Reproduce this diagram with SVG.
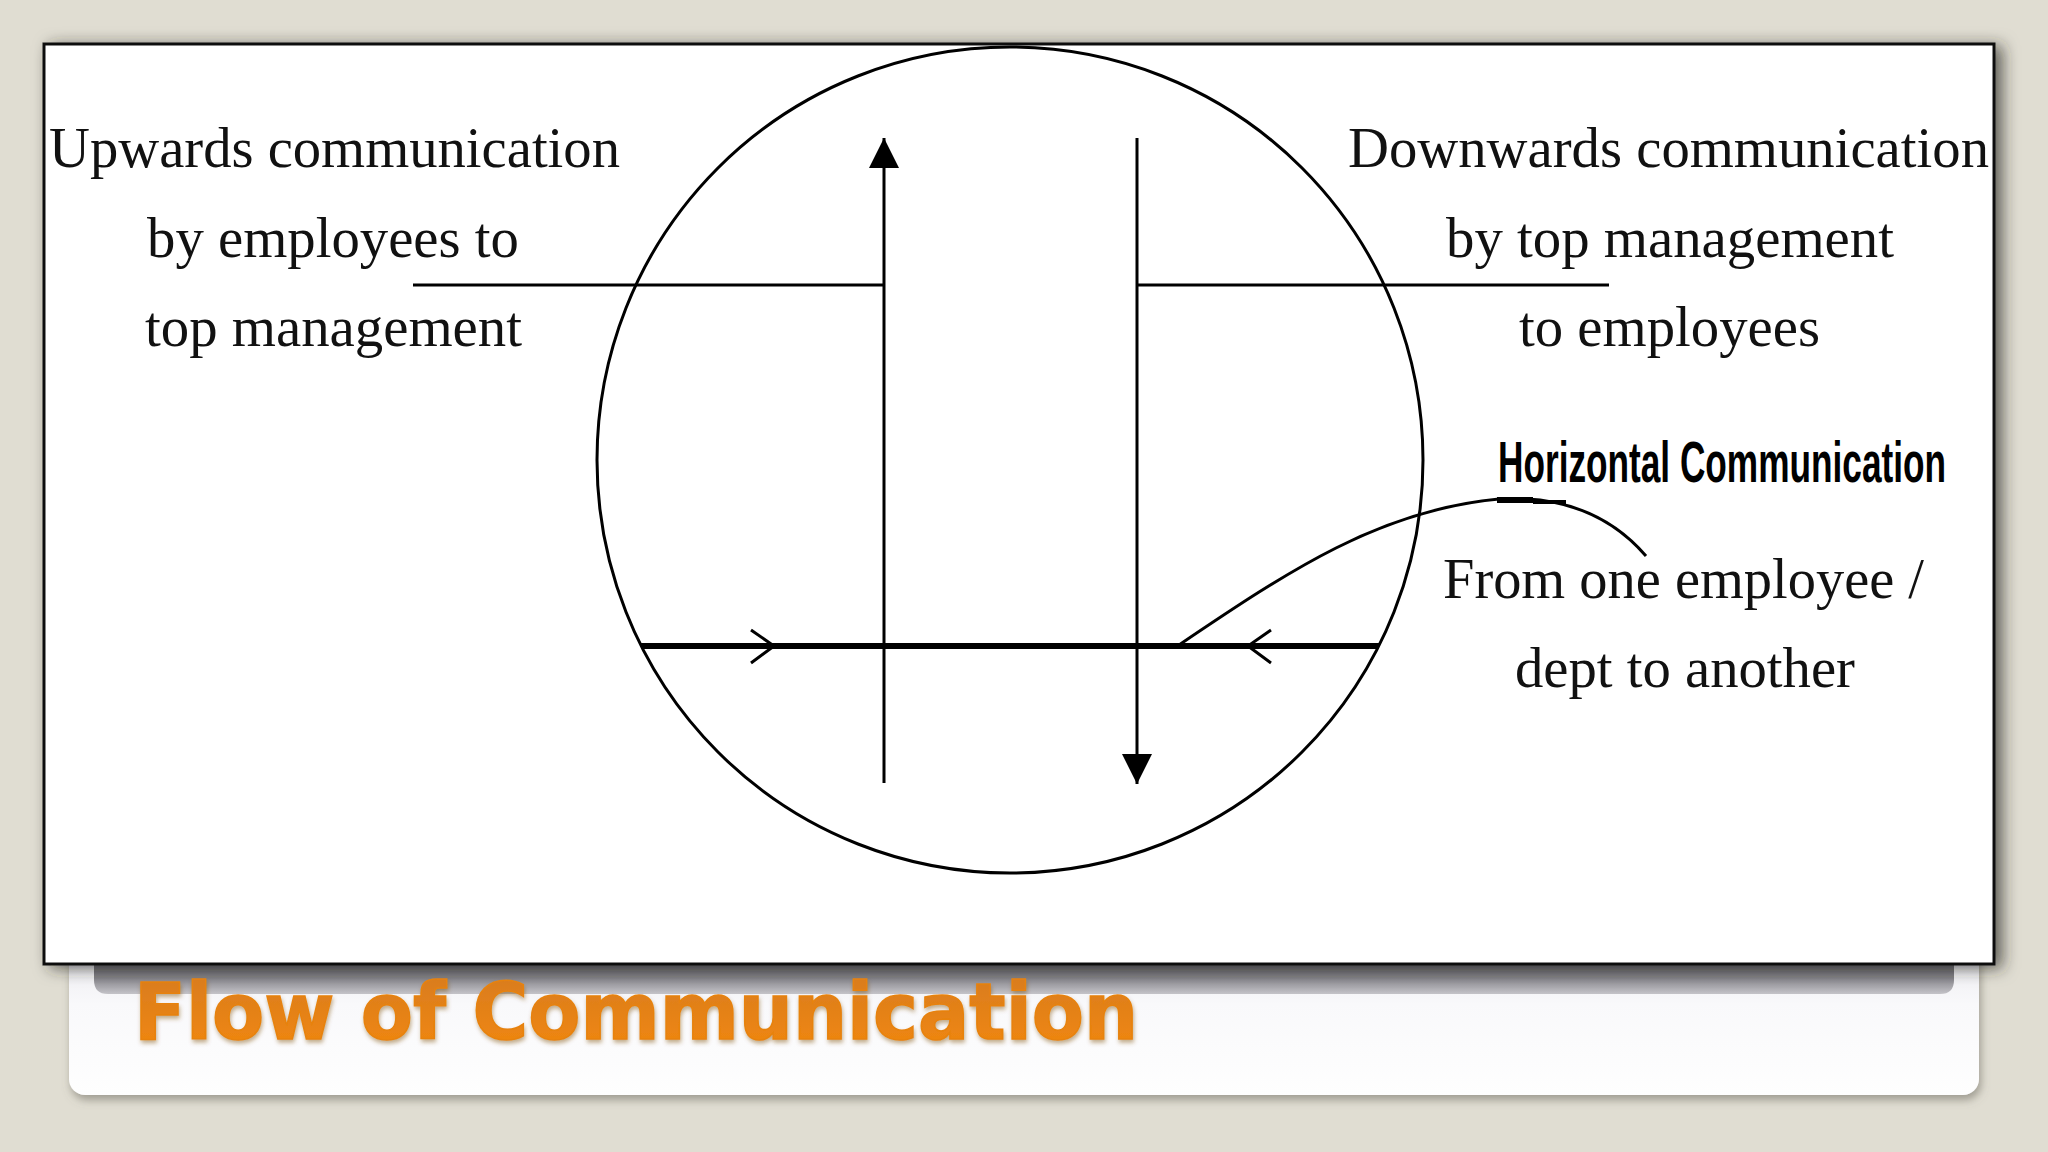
<svg xmlns="http://www.w3.org/2000/svg" width="2048" height="1152" viewBox="0 0 2048 1152">
  <style>
    .ln { stroke: #000; stroke-width: 3; fill: none; stroke-linecap: butt; }
    .serif { font-family: "Liberation Serif", "Times New Roman", serif; font-size: 58px; fill: #111; }
    .cond { font-family: "Liberation Sans", Arial, sans-serif; font-weight: bold; font-size: 58px; fill: #000; }
    .title { font-family: "DejaVu Sans", Verdana, sans-serif; font-weight: bold; font-size: 78px; fill: url(#orange); stroke: #e7820f; stroke-width: 1.5; }
  </style>
  <defs>
    <linearGradient id="orange" x1="0" y1="0" x2="0" y2="1">
      <stop offset="0" stop-color="#d67b22"/>
      <stop offset="1" stop-color="#f3880c"/>
    </linearGradient>
    <linearGradient id="bar" x1="0" y1="0" x2="0" y2="1">
      <stop offset="0" stop-color="#5c5a60"/>
      <stop offset="0.5" stop-color="#7f7e84"/>
      <stop offset="1" stop-color="#c4c3c8"/>
    </linearGradient>
    <linearGradient id="card" x1="0" y1="0" x2="0" y2="1">
      <stop offset="0" stop-color="#e6e5ea"/>
      <stop offset="0.45" stop-color="#f9f9fb"/>
      <stop offset="1" stop-color="#fefefe"/>
    </linearGradient>
    <filter id="panelShadow" x="-5%" y="-5%" width="112%" height="112%">
      <feDropShadow dx="7" dy="3" stdDeviation="8" flood-color="#2a2820" flood-opacity="0.7"/>
    </filter>
    <filter id="cardShadow" x="-5%" y="-20%" width="110%" height="150%">
      <feDropShadow dx="2" dy="5" stdDeviation="4" flood-color="#6b685c" flood-opacity="0.55"/>
    </filter>
    <filter id="titleShadow" x="-5%" y="-20%" width="110%" height="150%">
      <feDropShadow dx="1" dy="3" stdDeviation="2" flood-color="#7a4a10" flood-opacity="0.45"/>
    </filter>
    <marker id="tri" viewBox="0 0 30 30" refX="30" refY="15" markerWidth="30" markerHeight="30" markerUnits="userSpaceOnUse" orient="auto">
      <path d="M0,0 L30,15 L0,30 Z" fill="#000"/>
    </marker>
  </defs>

  <rect x="0" y="0" width="2048" height="1152" fill="#e0ddd2"/>

  <g id="slide-frame">
    <rect x="69" y="930" width="1910" height="165" rx="16" fill="url(#card)" filter="url(#cardShadow)"/>
    <path d="M94,958 H1954 V980 Q1954,994 1940,994 H108 Q94,994 94,980 Z" fill="url(#bar)"/>
    <rect x="44" y="44" width="1950" height="920" fill="#fff" stroke="#111" stroke-width="3" filter="url(#panelShadow)"/>
  </g>

  <g id="circle">
    <circle cx="1010" cy="460" r="413" class="ln"/>
  </g>

  <g id="connectors">
    <line id="upward" x1="884" y1="783" x2="884" y2="138" class="ln" marker-end="url(#tri)"/>
    <line id="downward" x1="1137" y1="138" x2="1137" y2="784" class="ln" marker-end="url(#tri)"/>
    <line id="up-leader" x1="413" y1="285" x2="884" y2="285" class="ln"/>
    <line id="down-leader" x1="1137" y1="285" x2="1609" y2="285" class="ln"/>
    <line id="horizontal" x1="641" y1="646" x2="1379" y2="646" stroke="#000" stroke-width="6"/>
    <path d="M751,630 L774,646 L751,663" class="ln"/>
    <path d="M1271,630 L1248,646 L1271,663" class="ln"/>
    <path id="horiz-leader" d="M1179,645 C1290,570 1380,510 1499,499 C1570,495 1615,520 1646,556" class="ln"/>
    <path d="M1497,500 H1533" stroke="#000" stroke-width="6"/>
    <path d="M1533,502 H1566" stroke="#000" stroke-width="4"/>
  </g>

  <g id="label-upward">
    <text class="serif" x="49" y="167" textLength="571" lengthAdjust="spacingAndGlyphs">Upwards communication</text>
    <text class="serif" x="147" y="257" textLength="372" lengthAdjust="spacingAndGlyphs">by employees to</text>
    <text class="serif" x="145" y="346" textLength="377" lengthAdjust="spacingAndGlyphs">top management</text>
  </g>

  <g id="label-downward">
    <text class="serif" x="1348" y="167" textLength="641" lengthAdjust="spacingAndGlyphs">Downwards communication</text>
    <text class="serif" x="1446" y="257" textLength="448" lengthAdjust="spacingAndGlyphs">by top management</text>
    <text class="serif" x="1519" y="346" textLength="301" lengthAdjust="spacingAndGlyphs">to employees</text>
  </g>

  <g id="label-horizontal">
    <text class="cond" x="1498" y="482" textLength="448" lengthAdjust="spacingAndGlyphs">Horizontal Communication</text>
    <text class="serif" x="1443" y="598" textLength="481" lengthAdjust="spacingAndGlyphs">From one employee /</text>
    <text class="serif" x="1515" y="687" textLength="340" lengthAdjust="spacingAndGlyphs">dept to another</text>
  </g>

  <g id="title">
    <text class="title" x="134" y="1039" textLength="1004" lengthAdjust="spacingAndGlyphs" filter="url(#titleShadow)">Flow of Communication</text>
  </g>
</svg>
